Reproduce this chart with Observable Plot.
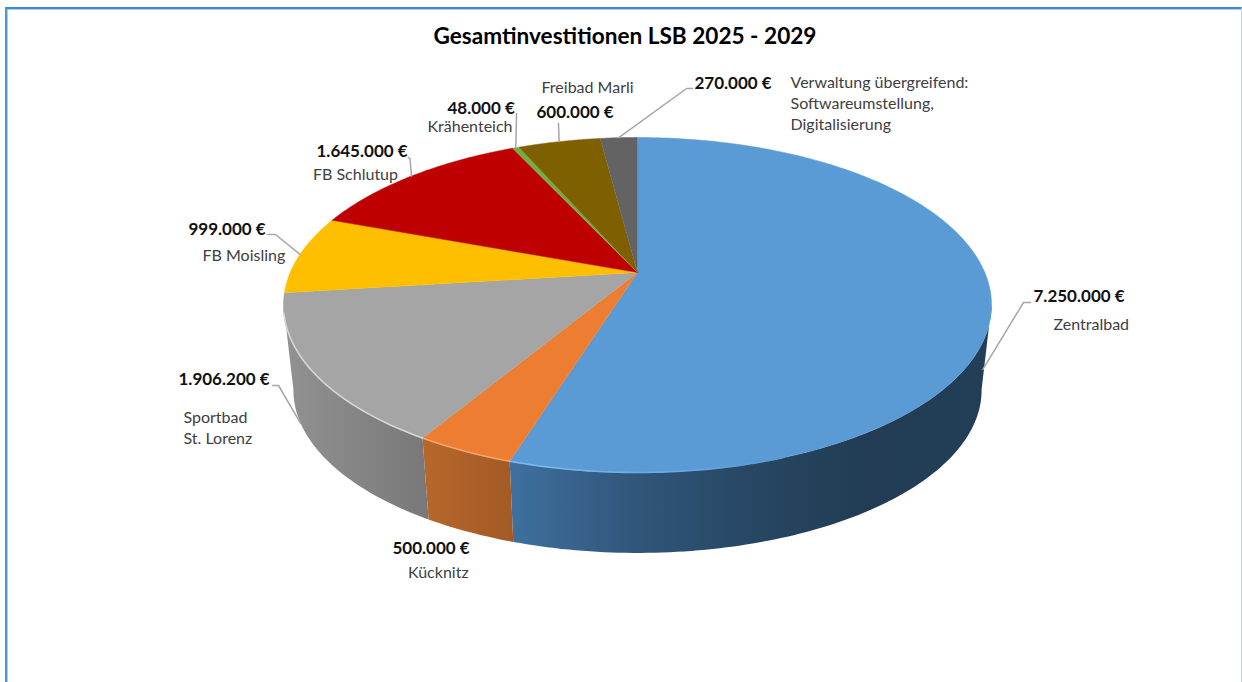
<!DOCTYPE html>
<html lang="de">
<head>
<meta charset="utf-8">
<script src="https://cdn.jsdelivr.net/npm/d3@7"></script>
<script src="https://cdn.jsdelivr.net/npm/@observablehq/plot@0.6"></script>
<style>
  html, body { margin: 0; padding: 0; background: #fff; overflow: hidden; width: 1242px; height: 682px; }
  #chart { position: relative; width: 1242px; height: 682px; overflow: hidden; }
  #chart svg { display: block; }
  #frame {
    position: absolute; left: 5px; top: 7px; right: 0; height: 700px; box-sizing: border-box;
    border-top: 2px solid #4189cf; border-left: 2px solid #4f96d8; border-right: 1px solid #bcd3e6;
    box-shadow: inset 1px 1px 0 #a9cbea; pointer-events: none;
  }
</style>
</head>
<body>
<div id="chart"><div id="frame"></div></div>
<script>
// Investment per site, clockwise from twelve o'clock
const sites = ["Zentralbad", "Kücknitz", "Sportbad\nSt. Lorenz", "FB Moisling", "FB Schlutup", "Krähenteich", "Freibad Marli", "Verwaltung übergreifend:\nSoftwareumstellung,\nDigitalisierung"];
const amounts = [7250000, 500000, 1906200, 999000, 1645000, 48000, 600000, 270000];
const topColors = ["#5B9BD5", "#ED7D31", "#A5A5A5", "#FDBF00", "#BF0000", "#70AD47", "#7F6000", "#636363"];

// Label placement, one row per site: value label, name label, leader elbow
const valueAt = [[1033, 296], [392, 548], [178, 379], [188, 229], [316, 151], [447, 108], [536, 112], [694, 83]];
const nameAt = [[1053, 325], [407.5, 573], [183, 418], [202, 256], [312.5, 175], [427, 127], [541, 88], [790, 83]];
const leaders = [
  {start: [1030, 302], elbow: [1023, 302], depth: 0.84},
  null,
  {start: [272, 385], elbow: [278, 385], depth: 1, angle: 247.5},
  {start: [267, 234], elbow: [275, 234], depth: 0},
  {start: [408, 157], elbow: [409.5, 158], depth: 0},
  {start: [516, 113], elbow: [516, 114], depth: 0},
  {start: [558, 123], elbow: [558, 124], depth: 0},
  {start: [692, 88], elbow: [686, 88], depth: 0}
];

// Perspective disc: view centre, half axes and foreshortening of the near edge
const centre = {x: 637, y: 272};
const view = {a: 347.3, b: 161.2, k: 0.194, shrink: 0.028, drop: 86};
// Angles where the disc's outline turns from the front wall to the back
const silhouette = {right: 101, left: 259};
const project = (deg, depth = 0) => {
  const t = deg * Math.PI / 180;
  const X = Math.sin(t), Y = -Math.cos(t), s = 1 / (1 - view.k * Y);
  const scale = 1 - view.shrink * depth;
  return {
    x: centre.x + view.a * X * s * scale,
    y: centre.y + view.b * Y * s * scale + view.drop * depth
  };
};
const arcPoints = (from, to, depth = 0) => {
  const n = Math.max(2, Math.ceil(Math.abs(to - from)));
  return d3.range(n + 1).map((i) => project(from + (to - from) * i / n, depth));
};

const arcs = d3.pie().sort(null).value((d) => d)(amounts).map((a) => ({
  start: a.startAngle * 180 / Math.PI,
  end: a.endAngle * 180 / Math.PI
}));
const rows = sites.map((name, i) => ({name, amount: amounts[i], color: topColors[i], ...arcs[i], mid: (arcs[i].start + arcs[i].end) / 2}));

const euro = (v) => d3.formatLocale({decimal: ",", thousands: ".", grouping: [3], currency: ["", " €"]}).format("$,.0f")(v);

// Shading of the outer wall, from the lit left side to the dark right side
const wallStops = {
  0: [[0, "#3E719F"], [0.22, "#33597F"], [0.5, "#274762"], [0.75, "#213C54"], [1, "#233F58"]],
  1: [[0, "#B8672C"], [1, "#A35A25"]],
  2: [[0, "#929292"], [1, "#787878"]]
};
const gradients = () => {
  const defs = d3.create("svg:defs");
  for (const [i, stops] of Object.entries(wallStops)) {
    const g = defs.append("linearGradient").attr("id", `wall-${i}`);
    for (const [o, c] of stops) g.append("stop").attr("offset", o).attr("stop-color", c);
  }
  const rim = defs.append("linearGradient").attr("id", "rim-blue");
  rim.append("stop").attr("offset", 0).attr("stop-color", "#7FBBF0");
  rim.append("stop").attr("offset", 1).attr("stop-color", "#5B9BD5");
  return defs.node();
};

const xy = {x: "x", y: "y"};
const walls = rows.slice(0, 3).map((r, i) => {
  const from = Math.max(r.start, silhouette.right), to = Math.min(r.end, silhouette.left);
  return Plot.line(
    [...arcPoints(from, to, 0), ...arcPoints(to, from, 1)],
    {...xy, fill: `url(#wall-${i})`, stroke: "none"}
  );
});
const faces = rows.map((r) => Plot.line(
  [centre, ...arcPoints(r.start, r.end, 0)],
  {...xy, fill: r.color, stroke: r.color, strokeWidth: 0.5}
));
const rims = [
  Plot.line(arcPoints(rows[0].end, 160, 0), {...xy, stroke: "url(#rim-blue)", strokeWidth: 1.6}),
  Plot.line(arcPoints(rows[1].start, rows[1].end, 0), {...xy, stroke: "#F7A66C", strokeWidth: 1.6}),
  Plot.line(arcPoints(rows[2].start, 256, 0), {...xy, stroke: "#D6D6D6", strokeWidth: 1.6})
];
const leaderMarks = rows.flatMap((r, i) => {
  const l = leaders[i];
  if (!l) return [];
  const end = project(l.angle ?? r.mid, l.depth);
  const pts = [{x: l.start[0], y: l.start[1]}, {x: l.elbow[0], y: l.elbow[1]}, end];
  return [Plot.line(pts, {...xy, stroke: "#A6A6A6", strokeWidth: 1.5})];
});

const valueLabels = Plot.text(rows, {
  x: (d, i) => valueAt[i][0], y: (d, i) => valueAt[i][1],
  text: (d) => euro(d.amount),
  textAnchor: "start", fontWeight: 700, fontSize: 17, fill: "#111"
});
const nameLabels = Plot.text(rows, {
  x: (d, i) => nameAt[i][0], y: (d, i) => nameAt[i][1],
  text: "name", lineAnchor: "top", dy: -10, lineHeight: 1.3,
  textAnchor: "start", fontSize: 16, fill: "#404040"
});
const title = Plot.text(["Gesamtinvestitionen LSB 2025 - 2029"], {
  x: () => 624.5, y: () => 36, text: (d) => d,
  fontWeight: 700, fontSize: 22.6, fill: "#000"
});

const chart = Plot.plot({
  width: 1242, height: 682,
  margin: 0,
  style: {fontFamily: "Lato, sans-serif", background: "transparent", overflow: "hidden"},
  x: {domain: [0, 1242], range: [0, 1242], axis: null},
  y: {domain: [0, 682], range: [0, 682], axis: null},
  marks: [gradients, ...walls, ...faces, ...rims, ...leaderMarks, valueLabels, nameLabels, title]
});
document.getElementById("chart").prepend(chart);
</script>
</body>
</html>
